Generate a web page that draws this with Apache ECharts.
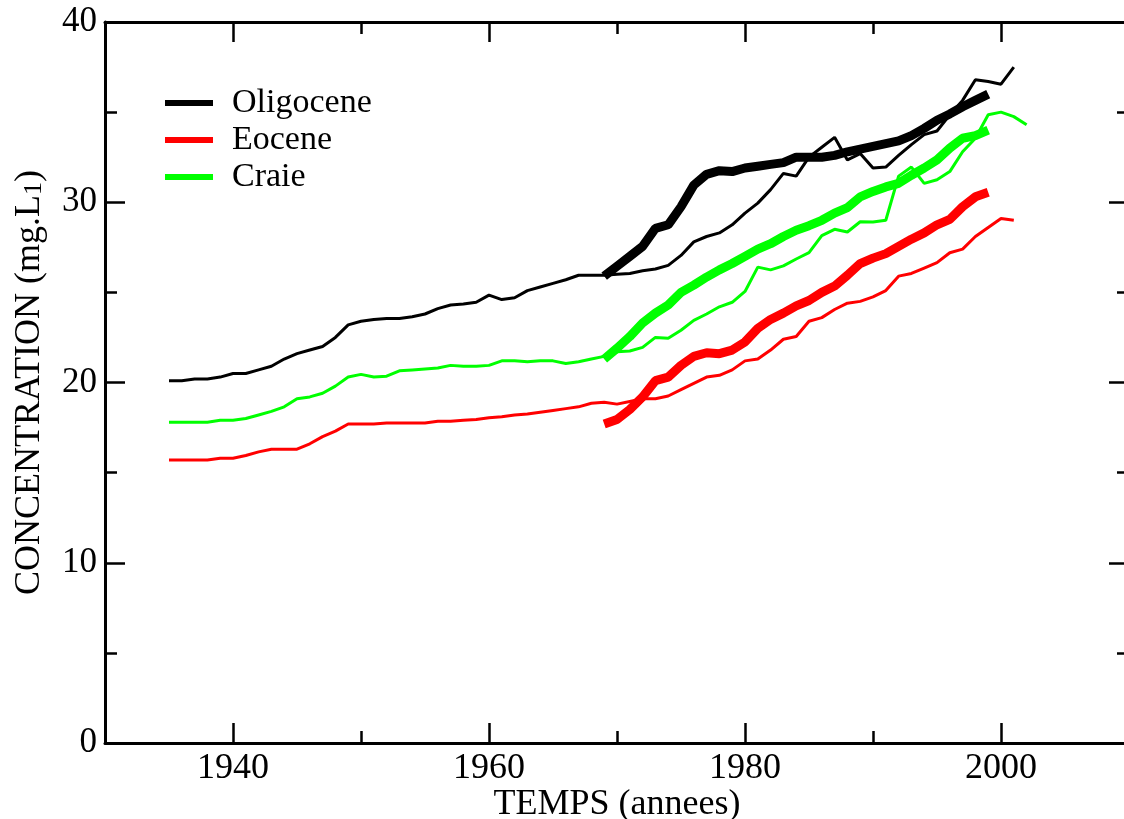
<!DOCTYPE html>
<html>
<head>
<meta charset="utf-8">
<script src="https://cdn.jsdelivr.net/npm/echarts@6/dist/echarts.min.js"></script>
<style>
html,body{margin:0;padding:0;background:#fff;}
#chart{width:1124px;height:819px;}
</style>
</head>
<body>
<div id="chart"></div>
<script>
// Years for the long (thin) records
const yearsLong = [1935,1936,1937,1938,1939,1940,1941,1942,1943,1944,1945,1946,1947,1948,1949,
  1950,1951,1952,1953,1954,1955,1956,1957,1958,1959,1960,1961,1962,1963,1964,1965,1966,1967,1968,1969,
  1970,1971,1972,1973,1974,1975,1976,1977,1978,1979,1980,1981,1982,1983,1984,1985,1986,1987,1988,1989,
  1990,1991,1992,1993,1994,1995,1996,1997,1998,1999,2000,2001,2002];
// Years for the short (thick) records
const yearsShort = [1969,1970,1971,1972,1973,1974,1975,1976,1977,1978,1979,1980,1981,1982,1983,1984,
  1985,1986,1987,1988,1989,1990,1991,1992,1993,1994,1995,1996,1997,1998,1999];

// Thin lines (1935 onwards)
const oligoceneThin = [20.1,20.1,20.2,20.2,20.3,20.5,20.5,20.7,20.9,21.3,21.6,21.8,22.0,22.5,23.2,
  23.4,23.5,23.55,23.55,23.65,23.8,24.1,24.3,24.35,24.45,24.85,24.6,24.7,25.1,25.3,25.5,25.7,25.95,25.95,25.95,
  26.0,26.05,26.2,26.3,26.5,27.05,27.8,28.1,28.3,28.75,29.4,29.95,30.7,31.6,31.45,32.5,33.05,33.6,32.35,32.7,
  31.9,31.95,32.6,33.2,33.75,33.95,34.85,35.65,36.8,36.7,36.55,37.5];
const eoceneThin = [15.7,15.7,15.7,15.7,15.8,15.8,15.95,16.15,16.3,16.3,16.3,16.6,17.0,17.3,17.7,
  17.7,17.7,17.75,17.75,17.75,17.75,17.85,17.85,17.9,17.95,18.05,18.1,18.2,18.25,18.35,18.45,18.55,18.65,18.85,18.9,
  18.8,18.95,19.1,19.1,19.25,19.6,19.95,20.3,20.4,20.7,21.2,21.3,21.8,22.4,22.55,23.4,23.6,24.05,24.4,24.5,
  24.75,25.1,25.9,26.05,26.35,26.65,27.2,27.4,28.1,28.6,29.1,29.0];
const craieThin = [17.8,17.8,17.8,17.8,17.9,17.9,18.0,18.2,18.4,18.65,19.1,19.2,19.4,19.8,20.3,
  20.45,20.3,20.35,20.65,20.7,20.75,20.8,20.95,20.9,20.9,20.95,21.2,21.2,21.15,21.2,21.2,21.05,21.15,21.3,21.45,
  21.7,21.75,21.95,22.5,22.45,22.9,23.45,23.8,24.2,24.45,25.05,26.4,26.25,26.47,26.85,27.2,28.15,28.5,28.35,28.92,
  28.9,29.0,31.45,31.95,31.05,31.25,31.7,32.8,33.55,34.85,35.0,34.75,34.3];

// Thick lines (1969-1999)
const oligoceneThick = [25.9,26.45,27.0,27.55,28.55,28.75,29.75,30.95,31.55,31.75,31.7,31.9,32.0,32.1,32.2,32.5,
  32.5,32.5,32.6,32.8,32.95,33.1,33.25,33.4,33.7,34.1,34.55,34.9,35.3,35.65,36.0];
const eoceneThick = [17.7,17.95,18.5,19.2,20.1,20.3,20.95,21.45,21.65,21.6,21.8,22.25,23.0,23.5,23.85,24.25,
  24.55,25.0,25.35,25.95,26.6,26.9,27.15,27.55,27.95,28.3,28.75,29.05,29.75,30.3,30.55];
const craieThick = [21.3,21.9,22.55,23.3,23.85,24.3,25.0,25.4,25.85,26.25,26.6,27.0,27.4,27.7,28.1,28.45,
  28.7,29.0,29.4,29.7,30.3,30.6,30.85,31.05,31.5,31.9,32.35,33.0,33.55,33.7,34.0];

const seriesNames = ['Oligocene','Eocene','Craie'];
const xMajorTicks = [1940,1960,1980,2000];
const xMinorTicks = [1950,1970,1990];

function pairs(xs, ys){ return ys.map((v,i)=>[xs[i], v]); }

const FONT = 'Liberation Serif, Times New Roman, serif';
const colors = {Oligocene:'#000000', Eocene:'#ff0000', Craie:'#00ff00'};

const chart = echarts.init(document.getElementById('chart'));

function xAxisBase(pos, ticks, len, showLine, showLabel, name){
  return {
    type:'value', position:pos, min:1930, max:2010,
    name: name || '', nameLocation:'middle', nameGap:44, nameMoveOverlap:false,
    nameTextStyle:{fontFamily:FONT, fontSize:36, color:'#000'},
    axisLine:{show:showLine, onZero:false, lineStyle:{color:'#000', width:3}},
    axisTick:{show:true, inside:true, length:len, customValues:ticks, lineStyle:{color:'#000', width:2.5}},
    axisLabel:{show:showLabel, customValues:ticks, fontFamily:FONT, fontSize:36, color:'#000', margin:8,
      formatter:(v)=>String(v)},
    splitLine:{show:false}
  };
}

const option = {
  animation:false,
  backgroundColor:'#fff',
  grid:{left:105, top:22, right:-5, bottom:76, containLabel:false, outerBoundsMode:'none'},
  legend:{
    orient:'vertical', left:165, top:86, padding:0,
    data:seriesNames,
    icon:'rect', itemWidth:48, itemHeight:6, itemGap:3,
    textStyle:{fontFamily:FONT, fontSize:34, color:'#000', lineHeight:30, padding:[0,0,0,14]}
  },
  xAxis:[
    xAxisBase('bottom', xMajorTicks, 20, true, true, 'TEMPS (annees)'),
    xAxisBase('bottom', xMinorTicks, 12, false, false),
    xAxisBase('top', xMajorTicks, 20, true, false),
    xAxisBase('top', xMinorTicks, 12, false, false)
  ],
  yAxis:[
    {
      type:'value', position:'left', min:0, max:40, interval:10,
      name:'CONCENTRATION (mg.L{s|1})', nameLocation:'middle', nameGap:57, nameMoveOverlap:false,
      nameTextStyle:{fontFamily:FONT, fontSize:36, color:'#000',
        rich:{s:{fontFamily:FONT, fontSize:26, color:'#000', padding:[8,0,0,0]}}},
      axisLine:{show:true, onZero:false, lineStyle:{color:'#000', width:3}},
      axisTick:{show:true, inside:true, length:20, lineStyle:{color:'#000', width:2.5}},
      minorTick:{show:true, splitNumber:2, length:12, lineStyle:{color:'#000', width:2.5}},
      axisLabel:{fontFamily:FONT, fontSize:35, color:'#000', margin:8},
      splitLine:{show:false}, minorSplitLine:{show:false}
    },
    {
      type:'value', position:'right', min:0, max:40, interval:10,
      axisLine:{show:true, onZero:false, lineStyle:{color:'#000', width:3}},
      axisTick:{show:true, inside:true, length:20, lineStyle:{color:'#000', width:2.5}},
      minorTick:{show:true, splitNumber:2, length:12, lineStyle:{color:'#000', width:2.5}},
      axisLabel:{show:false},
      splitLine:{show:false}, minorSplitLine:{show:false}
    }
  ],
  series:[
    {name:'Oligocene (long)', type:'line', data:pairs(yearsLong, oligoceneThin), showSymbol:false, symbol:'none',
      lineStyle:{color:colors.Oligocene, width:3}, itemStyle:{color:colors.Oligocene}, z:2},
    {name:'Eocene (long)', type:'line', data:pairs(yearsLong, eoceneThin), showSymbol:false, symbol:'none',
      lineStyle:{color:colors.Eocene, width:3}, itemStyle:{color:colors.Eocene}, z:2},
    {name:'Craie (long)', type:'line', data:pairs(yearsLong, craieThin), showSymbol:false, symbol:'none',
      lineStyle:{color:colors.Craie, width:3}, itemStyle:{color:colors.Craie}, z:2},
    {name:'Oligocene', type:'line', data:pairs(yearsShort, oligoceneThick), showSymbol:false, symbol:'none',
      lineStyle:{color:colors.Oligocene, width:9}, itemStyle:{color:colors.Oligocene}, z:3},
    {name:'Eocene', type:'line', data:pairs(yearsShort, eoceneThick), showSymbol:false, symbol:'none',
      lineStyle:{color:colors.Eocene, width:9}, itemStyle:{color:colors.Eocene}, z:3},
    {name:'Craie', type:'line', data:pairs(yearsShort, craieThick), showSymbol:false, symbol:'none',
      lineStyle:{color:colors.Craie, width:9}, itemStyle:{color:colors.Craie}, z:3}
  ]
};
chart.setOption(option);
</script>
</body>
</html>
